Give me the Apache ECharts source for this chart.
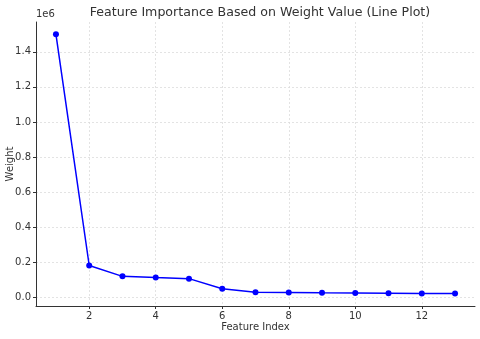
<!DOCTYPE html>
<html lang="en">
  <head>
    <meta charset="UTF-8" />
    <title>Feature Importance</title>
    <style>
      html, body { margin: 0; padding: 0; background: #fff; }
    </style>
  </head>
  <body>
    <div id="main" style="width: 480px; height: 339px"></div>
    <script src="https://cdn.jsdelivr.net/npm/echarts@6.0.0/dist/echarts.min.js"></script>
    <script>
      // data
      const featureIndex = [1, 2, 3, 4, 5, 6, 7, 8, 9, 10, 11, 12, 13]
      const weights = [1500000, 181000, 119000, 112000, 106000, 48000, 29000, 27000, 25000, 24000, 23000, 21500, 21000]
      const xTicks = [2, 4, 6, 8, 10, 12]
      const yTicks = [0, 200000, 400000, 600000, 800000, 1000000, 1200000, 1400000]

      const myChart = echarts.init(document.getElementById('main'), null, { renderer: 'canvas' })

      const gridLine = { show: true, lineStyle: { color: '#dcdcdc', type: [2, 2], width: 0.8 } }
      const font = 'DejaVu Sans'

      const option = {
        animation: false,
        textStyle: { fontFamily: font },
        title: {
          text: 'Feature Importance Based on Weight Value (Line Plot)',
          left: 255,
          textAlign: 'center',
          top: 1,
          textStyle: { fontSize: 12.6, fontWeight: 'normal', color: '#333', fontFamily: font }
        },
        graphic: [
          { type: 'text', left: 36, top: 9, style: { text: '1e6', fontSize: 10, fill: '#333', fontFamily: font } }
        ],
        grid: { left: 36, right: 5, top: 22, bottom: 33, containLabel: false, outerBoundsMode: 'none' },
        xAxis: {
          type: 'value',
          min: 0.4,
          max: 13.6,
          name: 'Feature Index',
          nameLocation: 'middle',
          nameGap: 16,
          nameMoveOverlap: false,
          nameTextStyle: { fontSize: 10, color: '#333' },
          axisLine: { onZero: false, lineStyle: { color: '#333', width: 1 } },
          axisTick: { show: true, length: 3, customValues: xTicks, lineStyle: { color: '#333' } },
          axisLabel: { customValues: xTicks, fontSize: 10, color: '#333', margin: 5 },
          splitLine: gridLine
        },
        yAxis: {
          type: 'value',
          min: -50000,
          max: 1570000,
          name: 'Weight',
          nameLocation: 'middle',
          nameGap: 21,
          nameMoveOverlap: false,
          nameTextStyle: { fontSize: 10, color: '#333' },
          axisLine: { show: true, onZero: false, lineStyle: { color: '#333', width: 1 } },
          axisTick: { show: true, length: 3, customValues: yTicks, lineStyle: { color: '#333' } },
          axisLabel: {
            customValues: yTicks,
            fontSize: 10,
            color: '#333',
            margin: 5,
            formatter: v => (v / 1e6).toFixed(1)
          },
          splitLine: gridLine
        },
        series: [
          {
            type: 'line',
            data: featureIndex.map((x, i) => [x, weights[i]]),
            symbol: 'circle',
            symbolSize: 6,
            lineStyle: { color: '#0000ff', width: 1.5 },
            itemStyle: { color: '#0000ff' }
          }
        ]
      }

      myChart.setOption(option)
    </script>
  </body>
</html>
